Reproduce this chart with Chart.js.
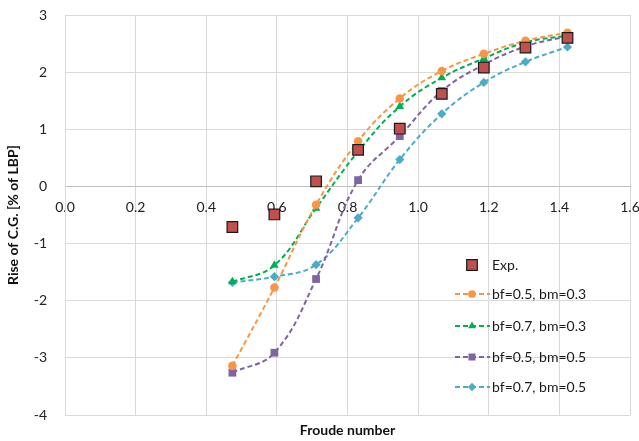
<!DOCTYPE html>
<html>
<head>
<meta charset="utf-8">
<script src="https://cdn.jsdelivr.net/npm/chart.js@4.4.0/dist/chart.umd.min.js"></script>
<style>
html,body{margin:0;padding:0;background:#fff;}
#wrap{width:639px;height:441px;position:relative;}
</style>
</head>
<body>
<div id="wrap"><canvas id="c" width="639" height="441"></canvas></div>
<script>
// Froude numbers (x)
const froude = [0.474, 0.593, 0.711, 0.830, 0.948, 1.067, 1.186, 1.304, 1.423];
// Rise of C.G. [% of LBP]
const expValues   = [-0.71, -0.49, 0.09, 0.64, 1.01, 1.62, 2.08, 2.43, 2.60];
const bf05bm03    = [-3.14, -1.77, -0.32, 0.79, 1.54, 2.02, 2.32, 2.55, 2.69];
const bf07bm03    = [-1.67, -1.38, -0.38, 0.61, 1.40, 1.90, 2.24, 2.52, 2.64];
const bf05bm05    = [-3.26, -2.91, -1.62, 0.11, 0.88, 1.67, 2.13, 2.45, 2.63];
const bf07bm05    = [-1.68, -1.58, -1.37, -0.55, 0.47, 1.27, 1.82, 2.18, 2.44];
const seriesLabels = ['Exp.', 'bf=0.5, bm=0.3', 'bf=0.7, bm=0.3', 'bf=0.5, bm=0.5', 'bf=0.7, bm=0.5'];
const xTicks = [0, 0.2, 0.4, 0.6, 0.8, 1.0, 1.2, 1.4, 1.6];
const yTicks = [-4, -3, -2, -1, 0, 1, 2, 3];

const pts = arr => froude.map((x, i) => ({x: x, y: arr[i]}));
const FONT = 'Lato, "Liberation Sans", sans-serif';
const DASH = [5, 3];

function lineSet(label, data, color, style, radius) {
  return {
    label: label, data: pts(data), borderColor: color, backgroundColor: color,
    borderWidth: 2, borderDash: DASH, tension: 0.4, showLine: true,
    pointStyle: style, pointRadius: radius, pointHoverRadius: radius,
    pointBorderColor: color, pointBackgroundColor: color, pointBorderWidth: 0
  };
}

const datasets = [
  {label: seriesLabels[0], data: pts(expValues), showLine: false,
   pointStyle: 'rect', pointRadius: 7.5, pointHoverRadius: 7.5,
   pointBackgroundColor: '#c0504d', pointBorderColor: '#1a1a1a', pointBorderWidth: 1.2,
   borderColor: '#1a1a1a', backgroundColor: '#c0504d'},
  lineSet(seriesLabels[1], bf05bm03, '#f79646', 'circle', 4.3),
  lineSet(seriesLabels[2], bf07bm03, '#00b050', 'triangle', 5),
  lineSet(seriesLabels[3], bf05bm05, '#8064a2', 'rect', 5.5),
  lineSet(seriesLabels[4], bf07bm05, '#4bacc6', 'rectRot', 4.6)
];

const legendPlugin = {
  id: 'innerLegend',
  afterDatasetsDraw(chart) {
    const ctx = chart.ctx;
    const ys = [265, 294, 326, 357, 387];
    const mx = 472, lx0 = 455, lx1 = 490, tx = 492;
    ctx.save();
    chart.data.datasets.forEach((ds, i) => {
      const y = ys[i];
      if (ds.showLine) {
        ctx.strokeStyle = ds.borderColor;
        ctx.lineWidth = 2;
        ctx.setLineDash(DASH);
        ctx.beginPath(); ctx.moveTo(lx0, y); ctx.lineTo(lx1, y); ctx.stroke();
        ctx.setLineDash([]);
      }
      const r = i === 0 ? 7.5 : ds.pointRadius * 0.9;
      ctx.fillStyle = ds.pointBackgroundColor;
      ctx.strokeStyle = ds.pointBorderColor;
      ctx.lineWidth = ds.pointBorderWidth || 0.0001;
      Chart.helpers.drawPoint(ctx, {pointStyle: ds.pointStyle, radius: r, rotation: 0, borderWidth: ds.pointBorderWidth}, mx, y);
      ctx.fillStyle = '#1a1a1a';
      ctx.font = '14px ' + FONT;
      ctx.textAlign = 'left';
      ctx.textBaseline = 'middle';
      ctx.fillText(ds.label, tx, y);
    });
    ctx.restore();
  }
};

new Chart(document.getElementById('c'), {
  type: 'scatter',
  data: {datasets: datasets},
  options: {
    responsive: false,
    animation: false,
    events: [],
    layout: {padding: {top: 15, right: 9, left: 0, bottom: 0}},
    plugins: {legend: {display: false}, tooltip: {enabled: false}},
    scales: {
      x: {
        type: 'linear', min: 0, max: 1.6,
        position: {y: 0},
        afterBuildTicks: s => { s.ticks = xTicks.map(v => ({value: v})); },
        ticks: {color: '#222', font: {family: FONT, size: 14}, padding: 13,
                callback: v => Number(v).toFixed(1), maxRotation: 0, autoSkip: false},
        grid: {color: '#d9d9d9', lineWidth: 1, drawTicks: false},
        border: {display: true, color: '#bfbfbf'},
        title: {display: false},
        afterFit: s => { s.paddingLeft = 0; s.paddingRight = 0; }
      },
      x2: {
        type: 'linear', min: 0, max: 1.6, position: 'bottom',
        ticks: {display: false}, grid: {display: false}, border: {display: false},
        title: {display: true, text: 'Froude number', color: '#111',
                font: {family: FONT, size: 14, weight: 'bold'}, padding: {top: 0, bottom: 2}},
        afterFit: s => { s.height = 26; s.paddingLeft = 0; s.paddingRight = 0; }
      },
      y: {
        type: 'linear', min: -4, max: 3,
        afterBuildTicks: s => { s.ticks = yTicks.map(v => ({value: v})); },
        ticks: {color: '#222', font: {family: FONT, size: 14}, padding: 18, autoSkip: false},
        grid: {color: '#d9d9d9', lineWidth: 1, drawTicks: false},
        border: {display: true, color: '#d9d9d9'},
        title: {display: true, text: 'Rise of C.G. [% of LBP]', color: '#111',
                font: {family: FONT, size: 14, weight: 'bold'}, padding: {top: 5, bottom: 0}},
        afterFit: s => { s.width = 65; s.paddingTop = 0; s.paddingBottom = 0; }
      }
    }
  },
  plugins: [legendPlugin]
});
</script>
</body>
</html>
